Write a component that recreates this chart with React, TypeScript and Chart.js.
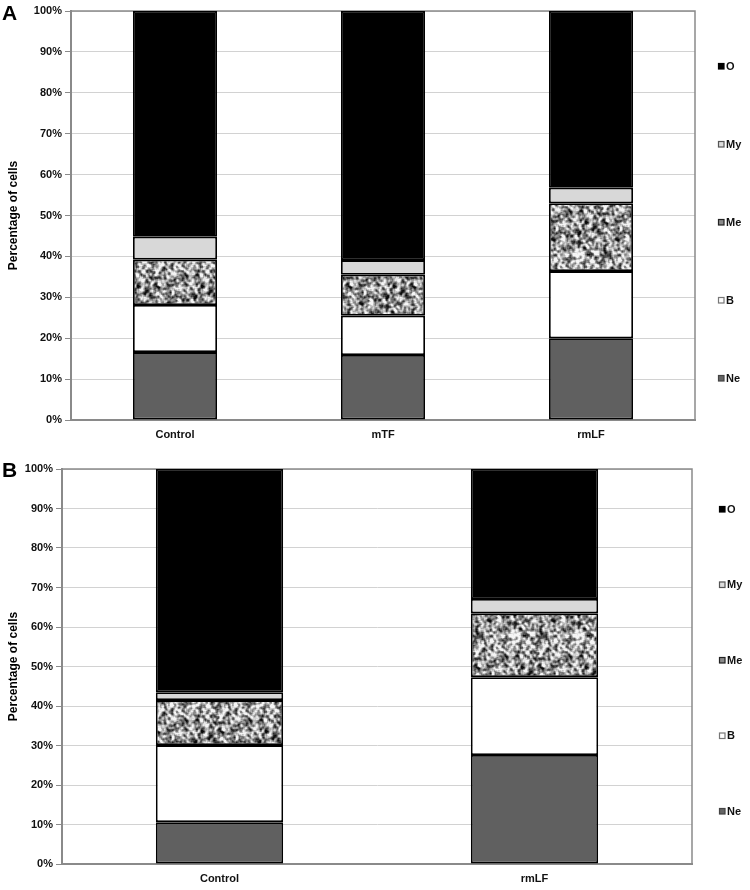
import React, { useEffect, useRef } from 'react';
import { Chart, registerables } from 'chart.js';

Chart.register(...registerables);

// ---------- data ----------
const seriesNames = ['Ne', 'B', 'Me', 'My', 'O'];

const categoriesA = ['Control', 'mTF', 'rmLF'];
const neA = [16.6, 15.9, 20.0];
const bA = [11.5, 9.6, 16.4];
const meA = [11.1, 10.0, 16.6];
const myA = [5.6, 3.6, 3.8];
const oA = [55.2, 60.9, 43.2];

const categoriesB = ['Control', 'rmLF'];
const neB = [10.6, 27.6];
const bB = [19.5, 19.7];
const meB = [11.4, 16.2];
const myB = [2.0, 3.6];
const oB = [56.5, 32.9];

const yTicks = [0, 10, 20, 30, 40, 50, 60, 70, 80, 90, 100];
const yTitle = 'Percentage of cells';

// ---------- styles ----------
function hash(x: number, y: number) {
  let h = (Math.imul(x, 374761393) + Math.imul(y, 668265263)) | 0;
  h = Math.imul(h ^ (h >>> 13), 1274126177);
  h = h ^ (h >>> 16);
  return (h >>> 0) / 4294967296;
}

function makeSpeckle(): CanvasPattern | string {
  const N = 64;
  const c = document.createElement('canvas');
  c.width = N;
  c.height = N;
  const ctx = c.getContext('2d');
  if (!ctx) return '#888';
  const raw: number[] = [];
  for (let y = 0; y < N; y++)
    for (let x = 0; x < N; x++) raw.push(0.6 * hash((x >> 1) + 11, (y >> 1) + 37) + 0.4 * hash(x + 91, y + 5));
  const img = ctx.createImageData(N, N);
  for (let y = 0; y < N; y++) {
    for (let x = 0; x < N; x++) {
      let s = 0;
      for (let dy = -1; dy <= 1; dy++)
        for (let dx = -1; dx <= 1; dx++) s += raw[((y + dy + N) % N) * N + ((x + dx + N) % N)];
      s /= 9;
      let g = 150 + (s - 0.5) * 620;
      g = Math.max(10, Math.min(245, g));
      const i = (y * N + x) * 4;
      img.data[i] = g;
      img.data[i + 1] = g;
      img.data[i + 2] = g;
      img.data[i + 3] = 255;
    }
  }
  ctx.putImageData(img, 0, 0);
  const p = ctx.createPattern(c, 'repeat');
  return p || '#888';
}

const FONT = 'Arial, "Liberation Sans", sans-serif';
const fillColors = ['#606060', '#ffffff', 'PATTERN', '#d8d8d8', '#000000'];
const legendFills = ['#666666', '#ffffff', '#8a8a8a', '#dcdcdc', '#000000'];
const legendBorders = ['#444444', '#777777', '#222222', '#555555', '#000000'];

type PanelProps = {
  letter: string;
  top: number;
  categories: string[];
  values: number[][];
  axisWidth: number;
  padTop: number;
  xAxisHeight: number;
  padRight: number;
  legendX: number;
  legendTop: number;
  legendGap: number;
};

function Panel(props: PanelProps) {
  const ref = useRef<HTMLCanvasElement | null>(null);
  useEffect(() => {
    if (!ref.current) return;
    const speckle = makeSpeckle();
    const datasets = seriesNames.map((name, i) => ({
      label: name,
      data: props.values[i],
      backgroundColor: fillColors[i] === 'PATTERN' ? (speckle as any) : fillColors[i],
      borderColor: '#000000',
      borderWidth: 1.8,
      borderSkipped: false as any,
      barPercentage: 0.404,
      categoryPercentage: 1,
    }));

    const framePlugin = {
      id: 'frame',
      beforeDatasetsDraw(chart: any) {
        const a = chart.chartArea;
        const ctx = chart.ctx;
        ctx.save();
        ctx.strokeStyle = '#8a8a8a';
        ctx.lineWidth = 1.5;
        ctx.beginPath();
        ctx.moveTo(a.left, a.top);
        ctx.lineTo(a.right, a.top);
        ctx.lineTo(a.right, a.bottom);
        ctx.stroke();
        ctx.restore();
      },
    };

    const legendPlugin = {
      id: 'sideLegend',
      afterDraw(chart: any) {
        const ctx = chart.ctx;
        ctx.save();
        ctx.font = `bold 11px ${FONT}`;
        ctx.textBaseline = 'middle';
        ctx.textAlign = 'left';
        const order = [4, 3, 2, 1, 0];
        order.forEach((si, k) => {
          const y = props.legendTop + k * props.legendGap;
          ctx.fillStyle = legendFills[si];
          ctx.fillRect(props.legendX, y - 3, 6, 6);
          ctx.strokeStyle = legendBorders[si];
          ctx.lineWidth = 1.2;
          ctx.strokeRect(props.legendX + 0.5, y - 2.5, 5.5, 5.5);
          ctx.fillStyle = '#111111';
          ctx.fillText(seriesNames[si], props.legendX + 8, y + 0.5);
        });
        ctx.restore();
      },
    };

    const chart = new Chart(ref.current, {
      type: 'bar',
      data: { labels: props.categories, datasets },
      options: {
        responsive: false,
        animation: false,
        maintainAspectRatio: false,
        layout: { padding: { top: props.padTop, right: props.padRight, left: 0, bottom: 0 } },
        plugins: {
          legend: { display: false },
          tooltip: { enabled: false },
        },
        scales: {
          x: {
            stacked: true,
            grid: { display: false, drawTicks: false },
            border: { display: true, color: '#8a8a8a', width: 2 },
            ticks: {
              color: '#111111',
              font: { family: FONT, size: 11, weight: 'bold' },
              padding: 8,
            },
            afterFit(scale: any) {
              scale.height = props.xAxisHeight;
            },
          },
          y: {
            stacked: true,
            min: 0,
            max: 100,
            afterBuildTicks(scale: any) {
              scale.ticks = yTicks.map((v) => ({ value: v }));
            },
            grid: { color: '#d2d2d2', lineWidth: 1, tickColor: '#8a8a8a', tickLength: 6 },
            border: { display: true, color: '#8a8a8a', width: 2 },
            ticks: {
              color: '#111111',
              font: { family: FONT, size: 11, weight: 'bold' },
              padding: 3,
              callback: (v: any) => `${v}%`,
            },
            title: {
              display: true,
              text: yTitle,
              color: '#000000',
              font: { family: FONT, size: 12, weight: 'bold' },
              padding: { top: 6, bottom: 0 },
            },
            afterFit(scale: any) {
              scale.width = props.axisWidth;
            },
          },
        },
      } as any,
      plugins: [framePlugin, legendPlugin],
    });
    return () => chart.destroy();
  }, []);

  return (
    <div style={{ position: 'absolute', left: 0, top: props.top, width: 750, height: 445 }}>
      <canvas ref={ref} width={750} height={445} style={{ display: 'block', width: 750, height: 445 }} />
      <div
        style={{
          position: 'absolute',
          left: 2,
          top: props.letter === 'A' ? 1 : 13,
          fontFamily: FONT,
          fontWeight: 'bold',
          fontSize: 21,
          lineHeight: '24px',
          color: '#000',
        }}
      >
        {props.letter}
      </div>
    </div>
  );
}

export default function App() {
  return (
    <div style={{ position: 'absolute', left: 0, top: 0, width: 750, height: 890, background: '#ffffff' }}>
      <Panel
        letter="A"
        top={0}
        categories={categoriesA}
        values={[neA, bA, meA, myA, oA]}
        axisWidth={71}
        padTop={11}
        xAxisHeight={25}
        padRight={55}
        legendX={718}
        legendTop={66}
        legendGap={78}
      />
      <Panel
        letter="B"
        top={445}
        categories={categoriesB}
        values={[neB, bB, meB, myB, oB]}
        axisWidth={62}
        padTop={24}
        xAxisHeight={26}
        padRight={58}
        legendX={719}
        legendTop={64}
        legendGap={75.5}
      />
    </div>
  );
}
